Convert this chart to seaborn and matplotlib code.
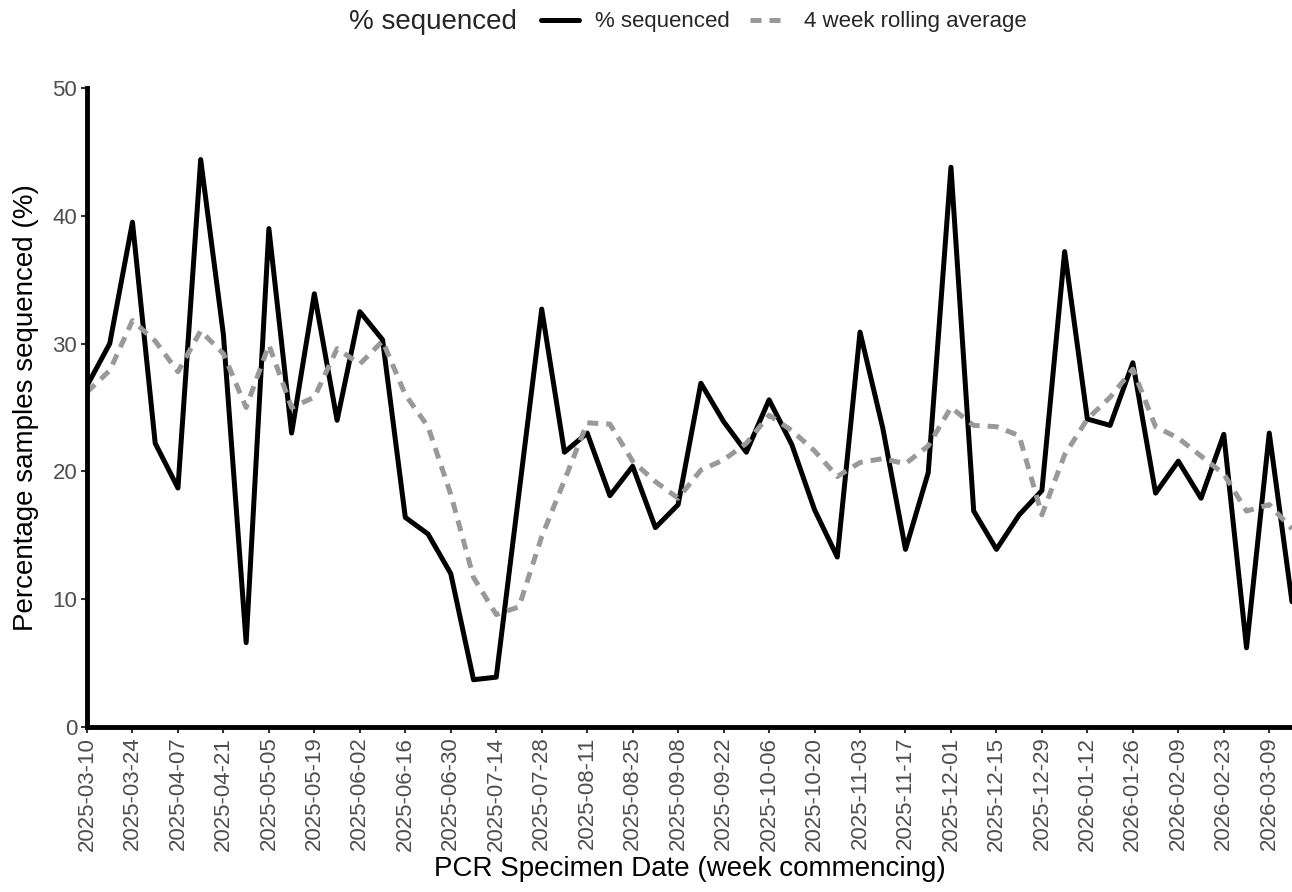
import pandas as pd
import matplotlib.pyplot as plt
import seaborn as sns
from matplotlib.lines import Line2D

# weekly values (week commencing, Mondays)
week_start = pd.date_range("2025-03-10", periods=54, freq="W-MON")

pct_sequenced = [26.7, 30.0, 39.5, 22.2, 18.7, 44.4, 30.7, 6.6, 39.0, 23.0,
                 33.9, 24.0, 32.5, 30.3, 16.4, 15.1, 12.0, 3.7, 3.9, 18.3,
                 32.7, 21.5, 23.0, 18.1, 20.4, 15.6, 17.4, 26.9, 23.9, 21.5,
                 25.6, 22.1, 17.0, 13.3, 30.9, 23.4, 13.9, 19.9, 43.8, 16.9,
                 13.9, 16.6, 18.5, 37.2, 24.1, 23.6, 28.5, 18.3, 20.8, 17.9,
                 22.9, 6.2, 23.0, 9.8]

rolling_avg = [26.2, 27.9, 31.8, 30.2, 27.8, 31.0, 29.2, 25.0, 29.9, 25.0,
               25.8, 29.6, 28.4, 30.2, 26.0, 23.5, 18.2, 11.7, 8.8, 9.4,
               14.9, 19.3, 23.8, 23.7, 20.8, 19.2, 17.9, 20.1, 20.9, 22.2,
               24.4, 23.2, 21.6, 19.6, 20.7, 21.0, 20.6, 22.0, 25.0, 23.6,
               23.5, 22.8, 16.6, 21.3, 24.1, 25.8, 28.0, 23.5, 22.6, 21.2,
               19.8, 16.9, 17.4, 15.5]

df = pd.DataFrame({"week": week_start, "pct": pct_sequenced, "roll": rolling_avg})

sns.set_theme(style="ticks")
plt.rcParams['font.family'] = ['Liberation Sans', 'DejaVu Sans']

fig = plt.figure(figsize=(12.92, 8.92), dpi=100)
ax = fig.add_axes([87 / 1292, 1 - 727 / 892, 1 - 87 / 1292, (727 - 88) / 892])

lw = 3.6
sns.lineplot(data=df, x="week", y="pct", ax=ax, color="black", linewidth=lw)
sns.lineplot(data=df, x="week", y="roll", ax=ax, color="#999999", linewidth=lw)
ax.lines[1].set_dashes((2.2, 1.6))
ax.lines[0].set_solid_joinstyle("round")

ax.set_xlim(week_start[0], week_start[-1])
ax.set_ylim(0, 50)
ax.set_yticks([0, 10, 20, 30, 40, 50])
ax.set_xticks(week_start[::2])
ax.set_xticklabels([d.strftime("%Y-%m-%d") for d in week_start[::2]], rotation=90)

ax.tick_params(axis="both", colors="#333333", labelcolor="#4D4D4D", labelsize=16,
               length=4, width=1.5, pad=3)
for side in ["top", "right"]:
    ax.spines[side].set_visible(False)
for side in ["left", "bottom"]:
    ax.spines[side].set_linewidth(3.5)
    ax.spines[side].set_color("black")

ax.set_xlabel("PCR Specimen Date (week commencing)", fontsize=20, color="black", labelpad=4)
ax.set_ylabel("Percentage samples sequenced (%)", fontsize=20, color="black", labelpad=10)

handles = [Line2D([], [], color="black", linewidth=lw),
           Line2D([], [], color="#999999", linewidth=lw, dashes=(2.2, 1.6))]
fig.legend(handles, ["% sequenced", "4 week rolling average"], loc="center",
           bbox_to_anchor=(784 / 1292, 1 - 22 / 892), ncol=2, frameon=False,
           fontsize=16, handlelength=1.7, handletextpad=0.75, columnspacing=0.9)
fig.text(517 / 1292, 1 - 22 / 892, "% sequenced", ha="right", va="center", fontsize=20)

fig.savefig("out.png", dpi=100)
